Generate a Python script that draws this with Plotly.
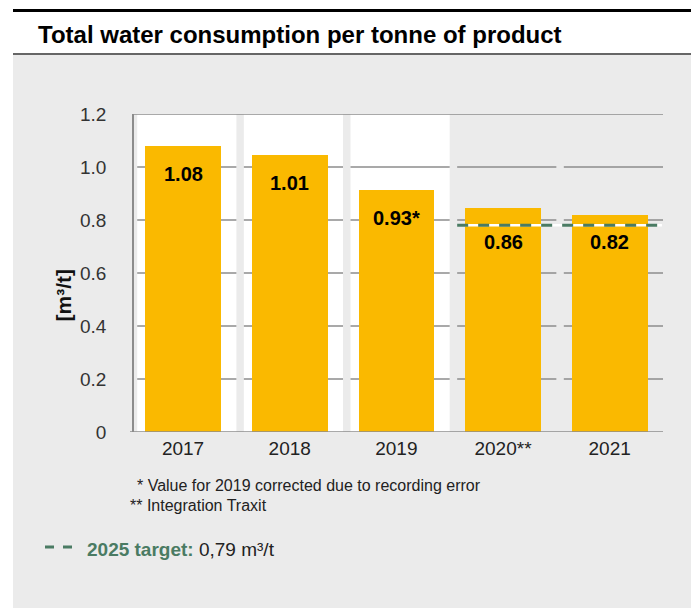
import plotly.graph_objects as go

# ---- data ----
years = ["2017", "2018", "2019", "2020**", "2021"]
bar_heights = [1.08, 1.045, 0.913, 0.845, 0.819]
value_labels = ["1.08", "1.01", "0.93*", "0.86", "0.82"]
y_tick_vals = [0, 0.2, 0.4, 0.6, 0.8, 1.0, 1.2]
y_tick_text = ["0", "0.2", "0.4", "0.6", "0.8", "1.0", "1.2"]
target_level = 0.78
target_years = [3, 4]          # categories the target line runs over
white_columns = [0, 1, 2]      # categories drawn on a white background
footnotes = ["* Value for 2019 corrected due to recording error",
             "** Integration Traxit"]
title = "Total water consumption per tonne of product"
y_title = "[m³/t]"
target_name = "2025 target:"
target_value = "0,79 m³/t"

BAR = "#FAB900"
GREEN = "#4A7B63"
GRID = "#8C8C8C"
PANEL = "#EBEBEB"
FONT = "Liberation Sans, Arial, sans-serif"

# ---- page geometry: screen pixels, the page body adds an 8px margin ----
OFF = 8
FW, FH = 699, 608
PLOT_L, PLOT_R, PLOT_T, PLOT_B = 134, 663, 114, 432   # on screen
L, T = PLOT_L - OFF, PLOT_T - OFF
R, B = FW - (PLOT_R - OFF), FH - (PLOT_B - OFF)
PW, PH = PLOT_R - PLOT_L, PLOT_B - PLOT_T


def px(x):
    return (x - PLOT_L) / PW


def py(y):
    return (PLOT_B - y) / PH


X0, X1 = -0.46, 4.5
GAP = 0.07

fig = go.Figure()
fig.add_trace(go.Bar(x=list(range(len(years))), y=bar_heights, width=0.71,
                     marker=dict(color=BAR, line=dict(width=0)),
                     hoverinfo="skip", showlegend=False))

# target line: white underlay + green dashes
tx = [min(target_years) - 0.5 + GAP, max(target_years) + 0.49]
fig.add_trace(go.Scatter(x=tx, y=[target_level] * 2, mode="lines",
                         line=dict(color="white", width=2.5), showlegend=False, hoverinfo="skip"))
fig.add_trace(go.Scatter(x=tx, y=[target_level] * 2, mode="lines",
                         line=dict(color=GREEN, width=3, dash="11px,10px"), showlegend=False, hoverinfo="skip"))

shapes = []
# grey panel, heading rules
shapes.append(dict(type="rect", xref="paper", yref="paper", layer="below",
                   x0=px(13), x1=px(693), y0=py(FH + 20), y1=py(55), fillcolor=PANEL, line=dict(width=0)))
shapes.append(dict(type="line", xref="paper", yref="paper",
                   x0=px(13), x1=px(693), y0=py(10.5), y1=py(10.5), line=dict(color="black", width=3)))
shapes.append(dict(type="line", xref="paper", yref="paper",
                   x0=px(13), x1=px(693), y0=py(54), y1=py(54), line=dict(color="#333333", width=1.5)))

# white columns behind the first bars
for i in white_columns:
    shapes.append(dict(type="rect", xref="x", yref="y", layer="below",
                       x0=max(X0, i - 0.5 + GAP), x1=i + 0.5, y0=0, y1=max(y_tick_vals),
                       fillcolor="white", line=dict(width=0)))

# broken grid lines, one segment per category
for v in y_tick_vals[1:-1]:
    for i in range(len(years)):
        shapes.append(dict(type="line", xref="x", yref="y", layer="below",
                           x0=max(X0, i - 0.5 + GAP), x1=i + 0.5, y0=v, y1=v,
                           line=dict(color=GRID, width=1.5)))
shapes.append(dict(type="line", xref="x", yref="y", layer="below",
                   x0=X0, x1=X1, y0=max(y_tick_vals), y1=max(y_tick_vals),
                   line=dict(color=GRID, width=1.5)))
# baseline, a touch past the y axis
shapes.append(dict(type="line", xref="paper", yref="y",
                   x0=px(130), x1=1, y0=0, y1=0, line=dict(color=GRID, width=1.5)))
# legend dashes
shapes.append(dict(type="line", xref="paper", yref="paper",
                   x0=px(45), x1=px(72), y0=py(547), y1=py(547),
                   line=dict(color=GREEN, width=3, dash="9px,9px")))

annotations = []
for i, (h, lab) in enumerate(zip(bar_heights, value_labels)):
    if i in target_years:
        yy, shift = target_level, -17
    else:
        yy, shift = h, -28
    annotations.append(dict(x=i, y=yy, yshift=shift, text=f"<b>{lab}</b>", showarrow=False,
                            font=dict(size=20, color="black")))

annotations.append(dict(xref="paper", yref="paper", x=px(36), y=py(35), xanchor="left", yanchor="middle",
                        text=f"<b>{title}</b>", showarrow=False, font=dict(size=24, color="black")))
annotations.append(dict(xref="paper", yref="paper", x=px(49), y=py(296), textangle=-90,
                        text=f"<b>{y_title}</b>", showarrow=False, font=dict(size=21, color="#111111")))
annotations.append(dict(xref="paper", yref="paper", x=px(135), y=py(485), xanchor="left", yanchor="middle",
                        text=footnotes[0], showarrow=False, font=dict(size=16, color="#222222")))
annotations.append(dict(xref="paper", yref="paper", x=px(128), y=py(505), xanchor="left", yanchor="middle",
                        text=footnotes[1], showarrow=False, font=dict(size=16, color="#222222")))
annotations.append(dict(xref="paper", yref="paper", x=px(85), y=py(549), xanchor="left", yanchor="middle",
                        text=f"<span style='color:{GREEN}'><b>{target_name}</b></span> {target_value}",
                        showarrow=False, font=dict(size=19, color="#222222")))

fig.update_layout(
    width=FW, height=FH,
    margin=dict(l=L, r=R, t=T, b=B, autoexpand=False),
    paper_bgcolor="white", plot_bgcolor="rgba(0,0,0,0)",
    font=dict(family=FONT),
    shapes=shapes, annotations=annotations,
    bargap=0, showlegend=False,
    xaxis=dict(range=[X0, X1], tickvals=list(range(len(years))), ticktext=years,
               showgrid=False, zeroline=False, showline=False, ticks="", ticklabelstandoff=3,
               tickfont=dict(size=19, color="#222222")),
    yaxis=dict(range=[0, max(y_tick_vals)], tickvals=y_tick_vals, ticktext=y_tick_text,
               showgrid=False, zeroline=False, showline=True, linecolor=GRID, linewidth=1.5,
               ticks="", ticklabelstandoff=22, tickfont=dict(size=19, color="#333333")),
)

fig.write_html("out.html")
